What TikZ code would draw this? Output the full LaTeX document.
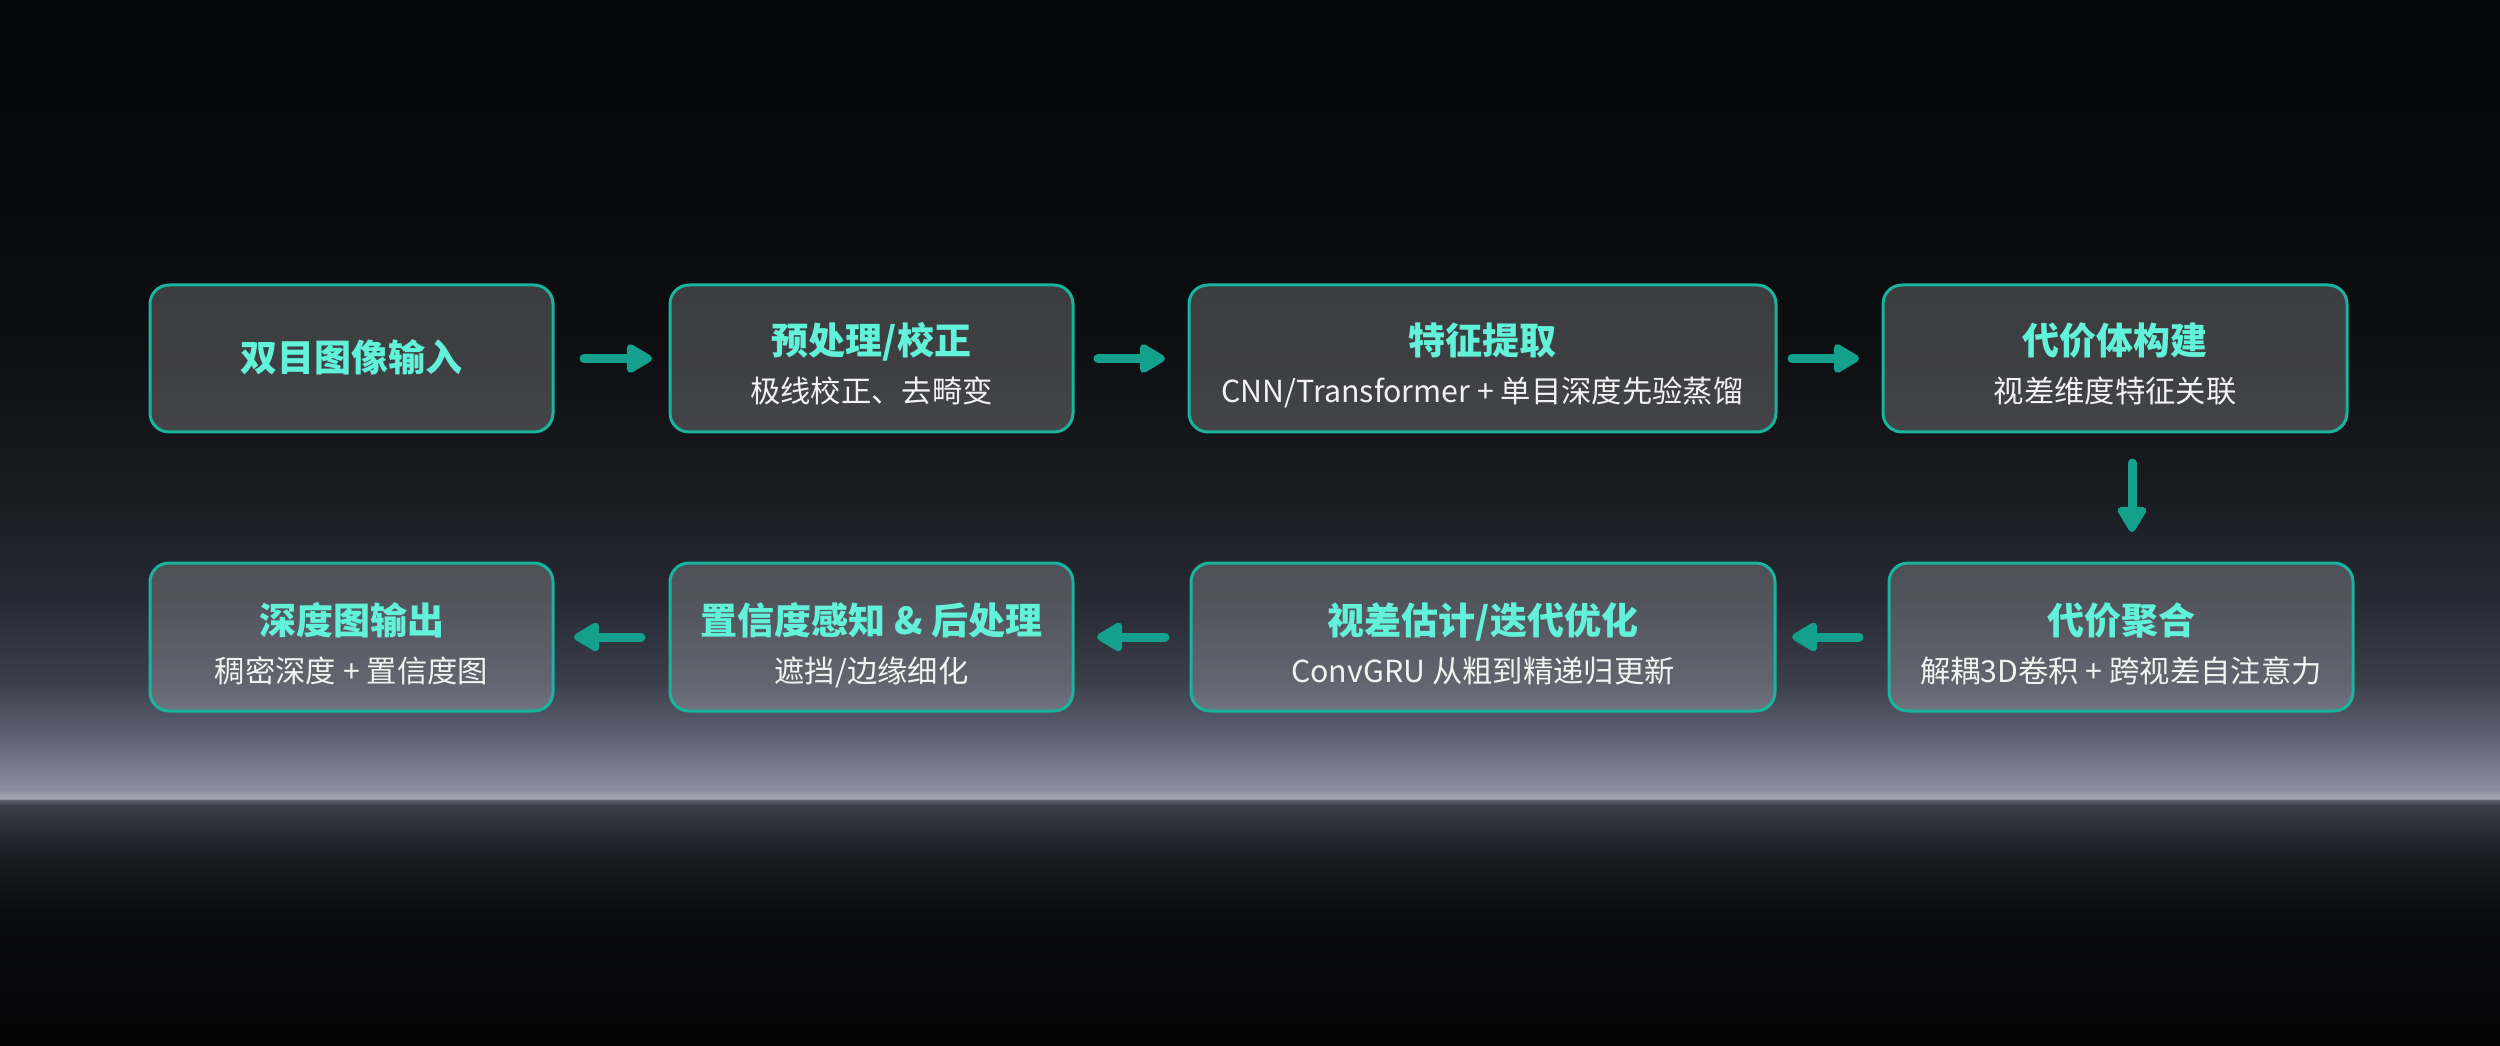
\documentclass[tikz,border=0pt]{standalone}
\usepackage{fontspec}
\newfontfamily\cjk{Noto Sans CJK SC}
\usetikzlibrary{arrows.meta,calc}
\definecolor{g0}{HTML}{050608}
\definecolor{g1}{HTML}{07080B}
\definecolor{g2}{HTML}{0E0F13}
\definecolor{g3}{HTML}{1A1C23}
\definecolor{g4}{HTML}{272A34}
\definecolor{g5}{HTML}{3A3E4B}
\definecolor{g6}{HTML}{5F6476}
\definecolor{g7}{HTML}{8A8FA1}
\definecolor{g8}{HTML}{A2A7B6}
\definecolor{g9}{HTML}{5E626C}
\definecolor{g10}{HTML}{3A3E48}
\definecolor{g11}{HTML}{1B1E25}
\definecolor{g12}{HTML}{0B0C10}
\definecolor{g13}{HTML}{040405}
\definecolor{arrowc}{HTML}{13A08C}
\definecolor{boxline}{HTML}{18B49C}
\definecolor{ttlc}{HTML}{62F2DA}
\definecolor{subc}{HTML}{F2F2F2}
\begin{document}
\begin{tikzpicture}[x=0.3pt,y=-0.3pt,
  box/.style={draw=boxline, line width=0.9pt, fill=white, fill opacity=0.2,
    draw opacity=1, rounded corners=5.7pt, inner sep=0pt, outer sep=0pt},
  ttl/.style={font=\cjk\bfseries\fontsize{11.1}{12}\selectfont, text=ttlc,
    inner sep=0pt, text height=0.88em, text depth=0.12em},
  sub/.style={font=\cjk\fontsize{9.1}{10}\selectfont, text=subc,
    inner sep=0pt, text height=0.88em, text depth=0.12em},
  arr/.style={draw=arrowc, line width=2.7pt, line cap=round, line join=round,
    -{Triangle[length=8.7pt,width=9.6pt,round]}}
]
\useasboundingbox (0,0) rectangle (2500,1046);
% background
\shade[top color=g0, bottom color=g1] (-2,0) rectangle (2502,151);
\shade[top color=g1, bottom color=g2] (-2,150) rectangle (2502,351);
\shade[top color=g2, bottom color=g3] (-2,350) rectangle (2502,501);
\shade[top color=g3, bottom color=g4] (-2,500) rectangle (2502,601);
\shade[top color=g4, bottom color=g5] (-2,600) rectangle (2502,681);
\shade[top color=g5, bottom color=g6] (-2,680) rectangle (2502,741);
\shade[top color=g6, bottom color=g7] (-2,740) rectangle (2502,791);
\shade[top color=g7, bottom color=g8] (-2,790) rectangle (2502,798);
\shade[top color=g8, bottom color=g9] (-2,798) rectangle (2502,801);
\shade[top color=g9, bottom color=g10] (-2,800) rectangle (2502,806);
\shade[top color=g10, bottom color=g11] (-2,805) rectangle (2502,851);
\shade[top color=g11, bottom color=g12] (-2,850) rectangle (2502,911);
\shade[top color=g12, bottom color=g13] (-2,910) rectangle (2502,1048);

% boxes row 1
\node[box, minimum width=120.9pt, minimum height=44.1pt] (b1) at (351.5,358.5) {};
\node[box, minimum width=120.9pt, minimum height=44.1pt] (b2) at (871.5,358.5) {};
\node[box, minimum width=176.1pt, minimum height=44.1pt] (b3) at (1482.5,358.5) {};
\node[box, minimum width=139.2pt, minimum height=44.1pt] (b4) at (2115,358.5) {};
% boxes row 2
\node[box, minimum width=120.9pt, minimum height=44.4pt] (b5) at (351.5,637) {};
\node[box, minimum width=120.9pt, minimum height=44.4pt] (b6) at (871.5,637) {};
\node[box, minimum width=175.2pt, minimum height=44.4pt] (b7) at (1483,637) {};
\node[box, minimum width=139.2pt, minimum height=44.4pt] (b8) at (2121,637) {};

% texts row 1
\node[ttl] (t1) at (b1) {双目图像输入};
\node[ttl] (t2) at ($(b2)+(0,-16.5)$) {预处理/校正};
\node[sub] (s2) at ($(b2)+(0,31.5)$) {极线校正、去畸变};
\node[ttl] (t3) at ($(b3)+(0,-16.5)$) {特征提取};
\node[sub] (s3) at ($(b3)+(0,31.5)$) {CNN/Transformer + 单目深度先验蒸馏};
\node[ttl] (t4) at ($(b4)+(0,-16.5)$) {代价体构建};
\node[sub] (s4) at ($(b4)+(0,31.5)$) {视差维度特征关联};
% texts row 2
\node[ttl] (t5) at ($(b5)+(0,-15)$) {深度图输出};
\node[sub] (s5) at ($(b5)+(0,33)$) {稠密深度 + 置信度图};
\node[ttl] (t6) at ($(b6)+(0,-15)$) {置信度感知 \& 后处理};
\node[sub] (s6) at ($(b6)+(0,33)$) {遮挡/边缘细化};
\node[ttl] (t7) at ($(b7)+(0,-15)$) {视差估计/迭代优化};
\node[sub] (s7) at ($(b7)+(0,33)$) {ConvGRU 从粗到精递归更新};
\node[ttl] (t8) at ($(b8)+(0,-15)$) {代价聚合};
\node[sub] (s8) at ($(b8)+(0,33)$) {解耦3D卷积 + 跨视差自注意力};

% arrows
\coordinate (ax) at (2132,0);
\draw[arr, shorten <=9.3pt, shorten >=5.4pt] (b1.east) -- (b2.west);
\draw[arr, shorten <=7.5pt, shorten >=7.2pt] (b2.east) -- (b3.west);
\draw[arr, shorten <=4.8pt, shorten >=7.2pt] (b3.east) -- (b4.west);
\draw[arr, shorten <=9.3pt, shorten >=9.3pt] (b4.south -| ax) -- (b8.north -| ax);
\draw[arr, shorten <=9pt, shorten >=5.1pt] (b8.west) -- (b7.east);
\draw[arr, shorten <=7.8pt, shorten >=7.2pt] (b7.west) -- (b6.east);
\draw[arr, shorten <=8.7pt, shorten >=6.3pt] (b6.west) -- (b5.east);
\end{tikzpicture}
\end{document}
